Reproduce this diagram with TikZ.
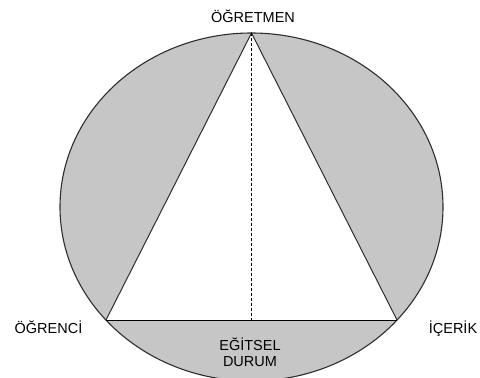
\documentclass[tikz,border=0pt]{standalone}
\usepackage{fontspec}
\setmainfont{Liberation Sans}
\definecolor{fillgray}{HTML}{C6C6C6}
\definecolor{rim}{HTML}{2E2E2E}

\begin{document}
\begin{tikzpicture}[x=1pt,y=-1pt,
	lbl/.style={font=\fontsize{14.5}{16}\selectfont,inner sep=0pt}]
	\useasboundingbox (0,0) rectangle (480,378);
	\clip (0,0) rectangle (480,378);
	% ellipse and inscribed triangle
	\coordinate (O) at (251.5,207);
	\coordinate (T) at (251.5,33);
	\coordinate (L) at (106,320);
	\coordinate (R) at (397,320);
	\coordinate (M) at (251.5,320);
	\fill[fillgray] (O) ellipse [x radius=191.5, y radius=174];
	\fill[white] (T)--(L)--(R)--cycle;
	\draw[rim,line width=1.1pt] (O) ellipse [x radius=191.5, y radius=174];
	\draw[rim,line width=1pt,line join=miter] (L)--(T)--(R);
	\draw[black,line width=1pt] (L)--(R);
	\draw[black,line width=0.9pt,dash pattern=on 3pt off 2pt] (T)--(M);

	% labels
	\node[lbl,anchor=base] (ogretmen) at (253,22) {ÖĞRETMEN};
	\node[lbl,anchor=base] (ogrenci) at (48.5,333) {ÖĞRENCİ};
	\node[lbl,anchor=base] (icerik) at (453,333) {İÇERİK};
	\node[lbl,align=center] (durum) at (250,352) {EĞİTSEL\\DURUM};
\end{tikzpicture}
\end{document}
